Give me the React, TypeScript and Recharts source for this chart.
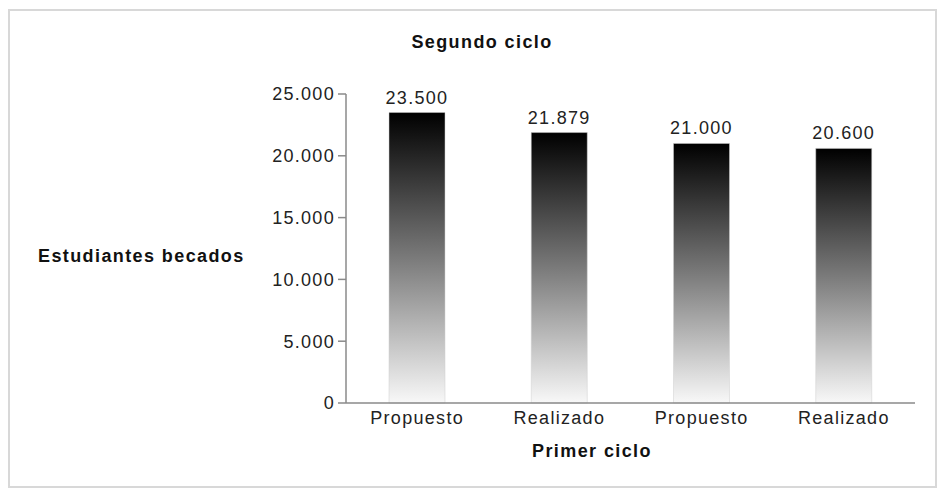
import { BarChart, Bar, XAxis, YAxis, LabelList, Customized } from 'recharts';

const categories = ['Propuesto', 'Realizado', 'Propuesto', 'Realizado'];
const becados = [23500, 21879, 21000, 20600];
const yTicks = [0, 5000, 10000, 15000, 20000, 25000];

const data = categories.map((c, i) => ({ id: i, name: c, value: becados[i] }));

const fmt = (v: number) => v.toLocaleString('de-DE');

const font = '"Liberation Sans", Arial, sans-serif';
const textStyle = { fill: '#222', fontSize: 18, fontFamily: font, letterSpacing: 1.3 };

const Titles = () => (
    <g fontFamily={font} fontWeight="bold" fontSize={18} fill="#111" letterSpacing={1.4}>
        <text x={482} y={48} textAnchor="middle">Segundo ciclo</text>
        <text x={38} y={262}>Estudiantes becados</text>
        <text x={592} y={457} textAnchor="middle">Primer ciclo</text>
    </g>
);

export default function App() {
    return (
        <div style={{ position: 'absolute', left: 0, top: 0, width: 938, height: 489 }}>
            <div style={{
                position: 'absolute', left: 8, top: 9, width: 925, height: 475,
                border: '2px solid #d8d8d8', boxSizing: 'content-box'
            }} />
            <BarChart
                width={938}
                height={489}
                data={data}
                margin={{ top: 94, right: 23, left: 286, bottom: 56 }}
                style={{ position: 'absolute', left: 0, top: 0 }}
            >
                <defs>
                    <linearGradient id="barGrad" x1="0" y1="0" x2="0" y2="1">
                        <stop offset="0%" stopColor="#000000" />
                        <stop offset="50%" stopColor="#7a7a7a" />
                        <stop offset="100%" stopColor="#f8f8f8" />
                    </linearGradient>
                </defs>
                <XAxis
                    dataKey="id"
                    height={30}
                    tickFormatter={(i: number) => categories[i]}
                    tickLine={false}
                    axisLine={{ stroke: '#8a8a8a', strokeWidth: 1.5 }}
                    tick={textStyle}
                    tickMargin={2}
                />
                <YAxis
                    width={60}
                    domain={[0, 25000]}
                    ticks={yTicks}
                    tickFormatter={fmt}
                    tickSize={8}
                    tickMargin={3}
                    axisLine={{ stroke: '#8a8a8a', strokeWidth: 1.5 }}
                    tickLine={{ stroke: '#8a8a8a', strokeWidth: 1.5 }}
                    tick={textStyle}
                    interval={0}
                />
                <Bar dataKey="value" barSize={56} fill="url(#barGrad)" stroke="#cfcfcf" strokeWidth={0.5} isAnimationActive={false}>
                    <LabelList dataKey="value" position="top" formatter={(v: any) => fmt(Number(v))}
                        style={textStyle} offset={9} />
                </Bar>
                <Customized component={Titles} />
            </BarChart>
        </div>
    );
}
